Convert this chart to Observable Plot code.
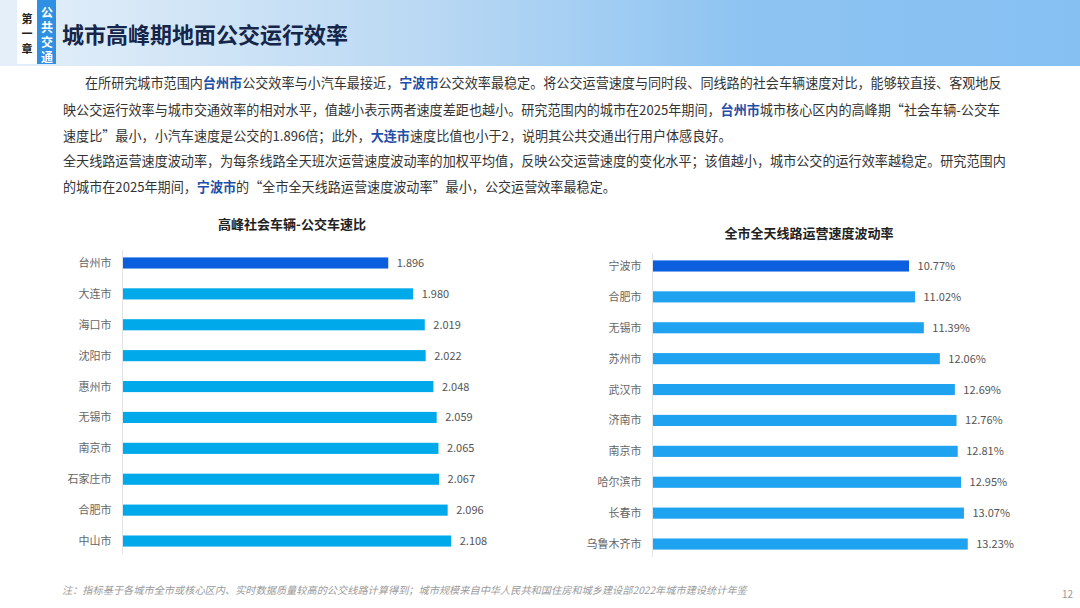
<!DOCTYPE html>
<html>
<head>
<meta charset="utf-8">
<script src="https://cdn.jsdelivr.net/npm/d3@7"></script>
<script src="https://cdn.jsdelivr.net/npm/@observablehq/plot@0.6"></script>
<style>
  html, body { margin: 0; padding: 0; background: #fff; }
  body { width: 1080px; height: 608px; position: relative; overflow: hidden;
         font-family: "Noto Sans CJK SC", "Noto Sans", sans-serif; }
  #header { position: absolute; left: 0; top: 0; width: 1080px; height: 66px;
            background: linear-gradient(90deg, #e4eff9 0%, #b9d8f3 40%, #8cc3f2 70%, #86c0f2 100%); }
  #chapWhite { position: absolute; left: 17px; top: 0; width: 20px; height: 64px; background: #fff; }
  #chapBlue { position: absolute; left: 37px; top: 0; width: 19px; height: 64px; background: #2f8fe2; }
  .vch { position: absolute; width: 20px; text-align: center; font-weight: 700; line-height: 15px; }
  #title { position: absolute; left: 62px; top: 17px; font-size: 22px; font-weight: 700; color: #15264a; white-space: nowrap; }
  .para { position: absolute; left: 63px; font-size: 13.1px; color: #333; white-space: nowrap; line-height: 18px; }
  .para b { color: #1f4fa6; font-weight: 700; }
  .ctitle { position: absolute; font-size: 13px; font-weight: 700; color: #222; white-space: nowrap; transform: translateX(-50%); }
  #chartL { position: absolute; left: 40px; top: 240px; }
  #chartR { position: absolute; left: 570px; top: 243px; }
  #note { position: absolute; left: 62px; top: 582px; font-size: 10.2px; color: #9a9a9a; font-style: italic; white-space: nowrap; }
  #page { position: absolute; left: 1062px; top: 586px; font-size: 10px; color: #999; }
</style>
</head>
<body>
<div id="header"></div>
<div id="chapWhite"></div>
<div id="chapBlue"></div>
<div class="vch" style="left:17px;top:11px;font-size:11px;color:#222;">第</div>
<div class="vch" style="left:17px;top:26px;font-size:11px;color:#222;">一</div>
<div class="vch" style="left:17px;top:41px;font-size:11px;color:#222;">章</div>
<div class="vch" style="left:37px;top:4px;font-size:12px;color:#fff;">公</div>
<div class="vch" style="left:37px;top:19px;font-size:12px;color:#fff;">共</div>
<div class="vch" style="left:37px;top:34px;font-size:12px;color:#fff;">交</div>
<div class="vch" style="left:37px;top:49px;font-size:12px;color:#fff;">通</div>
<div id="title">城市高峰期地面公交运行效率</div>

<div class="para" style="left:85px;top:74px;">在所研究城市范围内<b>台州市</b>公交效率与小汽车最接近，<b>宁波市</b>公交效率最稳定。将公交运营速度与同时段、同线路的社会车辆速度对比，能够较直接、客观地反</div>
<div class="para" style="top:101px;">映公交运行效率与城市交通效率的相对水平，值越小表示两者速度差距也越小。研究范围内的城市在2025年期间，<b>台州市</b>城市核心区内的高峰期“社会车辆-公交车</div>
<div class="para" style="top:127px;">速度比”最小，小汽车速度是公交的1.896倍；此外，<b>大连市</b>速度比值也小于2，说明其公共交通出行用户体感良好。</div>
<div class="para" style="top:152px;">全天线路运营速度波动率，为每条线路全天班次运营速度波动率的加权平均值，反映公交运营速度的变化水平；该值越小，城市公交的运行效率越稳定。研究范围内</div>
<div class="para" style="top:178px;">的城市在2025年期间，<b>宁波市</b>的“全市全天线路运营速度波动率”最小，公交运营效率最稳定。</div>

<div class="ctitle" style="left:292px;top:214px;">高峰社会车辆-公交车速比</div>
<div class="ctitle" style="left:809px;top:223px;">全市全天线路运营速度波动率</div>
<div id="chartL"></div>
<div id="chartR"></div>
<div id="note">注：指标基于各城市全市或核心区内、实时数据质量较高的公交线路计算得到；城市规模来自中华人民共和国住房和城乡建设部2022年城市建设统计年鉴</div>
<div id="page">12</div>

<script>
const ratioCities = ["台州市","大连市","海口市","沈阳市","惠州市","无锡市","南京市","石家庄市","合肥市","中山市"];
const ratioValues = [1.896,1.980,2.019,2.022,2.048,2.059,2.065,2.067,2.096,2.108];
const ratioDomain = [1, 2.4];

const volCities = ["宁波市","合肥市","无锡市","苏州市","武汉市","济南市","南京市","哈尔滨市","长春市","乌鲁木齐市"];
const volValues = [10.77,11.02,11.39,12.06,12.69,12.76,12.81,12.95,13.07,13.23];
const volDomain = [0, 15];

const highlightColor = "#0b5fdf";

function makeChart(cities, values, domain, width, plotWidth, barColor, fmt) {
  const data = cities.map((c, i) => ({city: c, value: values[i]}));
  return Plot.plot({
    width: width,
    height: 324,
    marginLeft: 82,
    marginRight: width - 82 - plotWidth,
    marginTop: 10,
    marginBottom: 10,
    style: {fontFamily: '"Noto Sans CJK SC", sans-serif', fontSize: "11px", color: "#666", background: "transparent"},
    x: {domain: domain, axis: null},
    y: {domain: cities, paddingInner: 0.64, paddingOuter: 0.24, round: false, tickSize: 0, tickPadding: 11, label: null},
    marks: [
      Plot.barX(data, {
        y: "city",
        x1: () => domain[0],
        x2: "value",
        fill: (d, i) => i === 0 ? highlightColor : barColor
      }),
      Plot.ruleX([domain[0]], {stroke: "#e3e3e3", strokeWidth: 1}),
      Plot.text(data, {
        y: "city", x: "value", text: d => fmt(d.value),
        dx: 8, textAnchor: "start", fill: "#555", fontSize: 11
      })
    ]
  });
}

document.getElementById("chartL").append(
  makeChart(ratioCities, ratioValues, ratioDomain, 538, 416, "#00a9ea", v => v.toFixed(3))
);
document.getElementById("chartR").append(
  makeChart(volCities, volValues, volDomain, 490, 358, "#1fa2f0", v => v.toFixed(2) + "%")
);
</script>
</body>
</html>
